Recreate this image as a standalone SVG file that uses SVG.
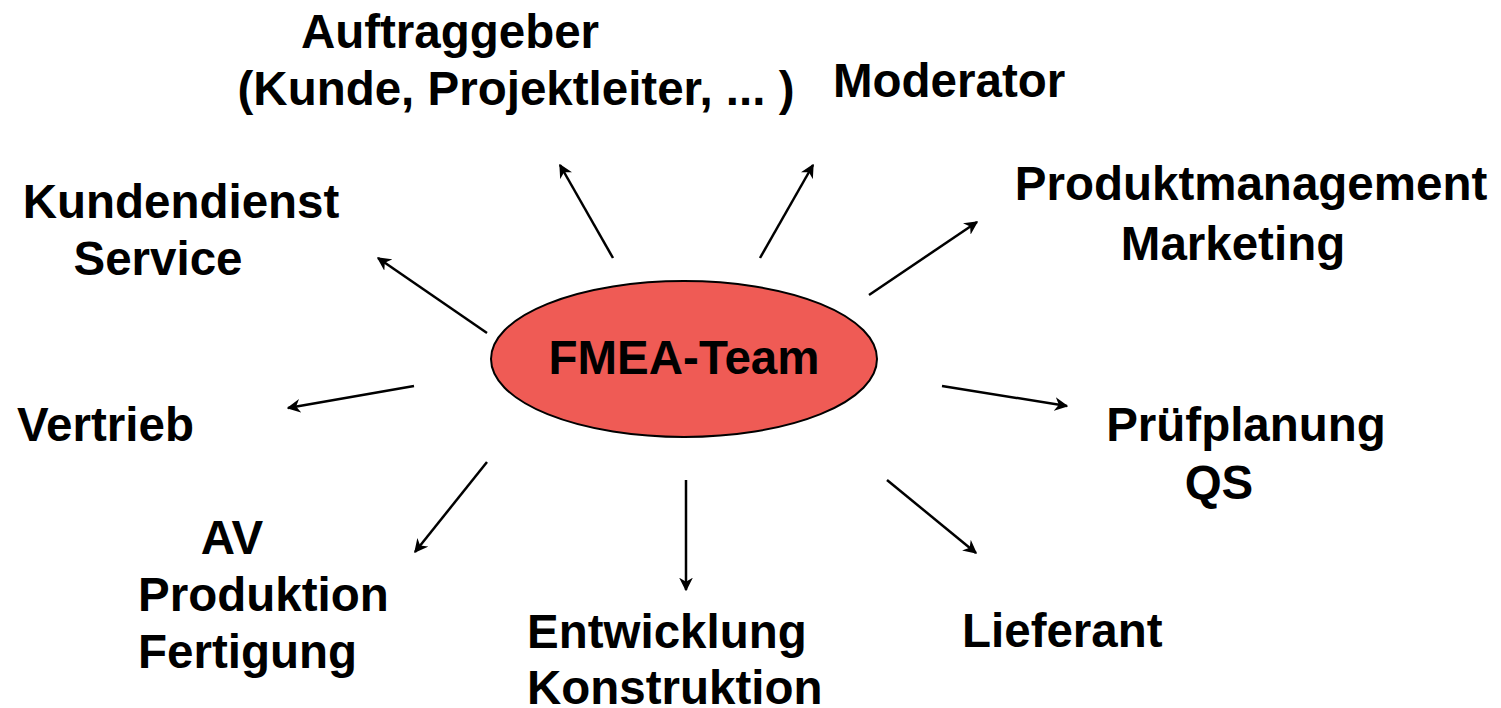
<svg xmlns="http://www.w3.org/2000/svg" width="1501" height="708" viewBox="0 0 1501 708">
<defs>
<marker id="ah" viewBox="0 0 10 10" refX="9" refY="5" markerWidth="5.5" markerHeight="5.5" orient="auto" markerUnits="strokeWidth">
<path d="M0,0 L10,5 L0,10 L3,5 Z" fill="#000"/>
</marker>
<style>
.t{font-family:"Liberation Sans",Arial,sans-serif;font-weight:bold;font-size:47.5px;fill:#000}
.c{stroke:#000;stroke-width:2.5;fill:none;marker-end:url(#ah)}
</style>
</defs>
<rect width="1501" height="708" fill="#fff"/>
<g id="connectors">
<line class="c" x1="487" y1="333" x2="378" y2="258"/>
<line class="c" x1="613" y1="258" x2="560" y2="165"/>
<line class="c" x1="760" y1="258" x2="813" y2="165"/>
<line class="c" x1="869" y1="295" x2="977" y2="222"/>
<line class="c" x1="942" y1="386" x2="1067" y2="406"/>
<line class="c" x1="887" y1="480" x2="976" y2="553"/>
<line class="c" x1="686" y1="480" x2="686" y2="590"/>
<line class="c" x1="487" y1="462" x2="415" y2="552"/>
<line class="c" x1="414" y1="386" x2="288" y2="408"/>
</g>
<g id="fmea-team">
<ellipse cx="684" cy="359" rx="193" ry="78" fill="#EF5B55" stroke="#000" stroke-width="2"/>
<text class="t" x="684" y="374" text-anchor="middle">FMEA-Team</text>
</g>
<g id="auftraggeber">
<text class="t" x="450" y="48" text-anchor="middle">Auftraggeber</text>
<text class="t" x="516" y="105" text-anchor="middle">(Kunde, Projektleiter, ... )</text>
</g>
<g id="moderator">
<text class="t" x="833" y="97">Moderator</text>
</g>
<g id="produktmanagement">
<text class="t" x="1251" y="200" text-anchor="middle">Produktmanagement</text>
<text class="t" x="1233" y="260" text-anchor="middle">Marketing</text>
</g>
<g id="kundendienst">
<text class="t" x="181" y="218" text-anchor="middle">Kundendienst</text>
<text class="t" x="158" y="275" text-anchor="middle">Service</text>
</g>
<g id="vertrieb">
<text class="t" x="17" y="441">Vertrieb</text>
</g>
<g id="pruefplanung">
<text class="t" x="1246" y="441" text-anchor="middle">Prüfplanung</text>
<text class="t" x="1219" y="499" text-anchor="middle">QS</text>
</g>
<g id="av">
<text class="t" x="232" y="554" text-anchor="middle">AV</text>
<text class="t" x="138" y="611">Produktion</text>
<text class="t" x="138" y="668">Fertigung</text>
</g>
<g id="entwicklung">
<text class="t" x="527" y="648">Entwicklung</text>
<text class="t" x="527" y="704">Konstruktion</text>
</g>
<g id="lieferant">
<text class="t" x="962" y="647">Lieferant</text>
</g>
</svg>
